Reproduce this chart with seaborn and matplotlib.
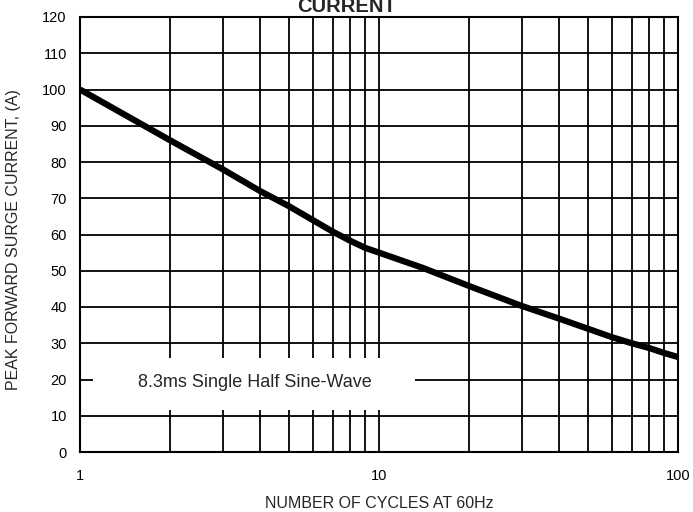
import matplotlib
matplotlib.use("Agg")
import matplotlib.pyplot as plt
import matplotlib.transforms as mtransforms
from matplotlib.patches import Rectangle
import pandas as pd
import seaborn as sns

# Data
cycles = [1, 2, 3, 4, 5, 6, 7, 8, 9, 10, 14, 20, 30, 40, 50, 60, 70, 80, 90, 100]
current = [100, 86, 78, 72, 67.8, 64, 60.8, 58.3, 56.3, 55, 50.8, 45.8, 40.3, 36.8,
           34, 31.7, 30, 28.7, 27.3, 26.2]
x_ticks = [1, 10, 100]
x_tick_labels = ["1", "10", "100"]
y_ticks = list(range(0, 121, 10))

df = pd.DataFrame({"cycles": cycles, "current": current})

sns.set_style("white")
plt.rcParams['font.family'] = ['Liberation Sans', 'DejaVu Sans']

fig = plt.figure(figsize=(6.93, 5.12), dpi=100)
ax = fig.add_axes([80 / 693, 60 / 512, 598 / 693, 435 / 512])

sns.lineplot(data=df, x="cycles", y="current", color="black", linewidth=4.5,
             solid_capstyle="butt", ax=ax, zorder=3)

ax.set_xscale("log")
ax.set_xlim(1, 100)
ax.set_ylim(0, 120)
ax.set_xticks(x_ticks)
ax.set_xticklabels(x_tick_labels)
ax.set_yticks(y_ticks)
ax.tick_params(axis="both", which="both", length=0, labelsize=10.5, colors="black")
ax.tick_params(axis="x", pad=12)
ax.tick_params(axis="y", pad=9.5)

ax.set_axisbelow(True)
ax.grid(True, which="both", color="black", linewidth=1.3)
for s in ax.spines.values():
    s.set_color("black")
    s.set_linewidth(1.5)

# white label box over the grid
trans = mtransforms.blended_transform_factory(ax.transAxes, ax.transData)
ax.add_patch(Rectangle((0.022, 11.6), 0.538, 14.3, transform=trans,
                       facecolor="white", edgecolor="none", zorder=2))
ax.text(0.292, 19.3, "8.3ms Single Half Sine-Wave", transform=trans,
        ha="center", va="center", fontsize=13, zorder=4)

ax.set_xlabel("NUMBER OF CYCLES AT 60Hz", fontsize=11.5)
ax.xaxis.set_label_coords(0.5, -(503 - 452) / 435)
ax.xaxis.label.set_va("center")
ax.set_ylabel("PEAK FORWARD SURGE CURRENT, (A)", fontsize=11.5)
ax.yaxis.set_label_coords(-(80 - 14) / 598, (452 - 240) / 435)
ax.yaxis.label.set_va("center")

fig.text(0.5, 1 - 12 / 512, "CURRENT", ha="center", va="baseline",
         fontsize=14.5, fontweight="bold")

fig.savefig("out.png", dpi=100)
